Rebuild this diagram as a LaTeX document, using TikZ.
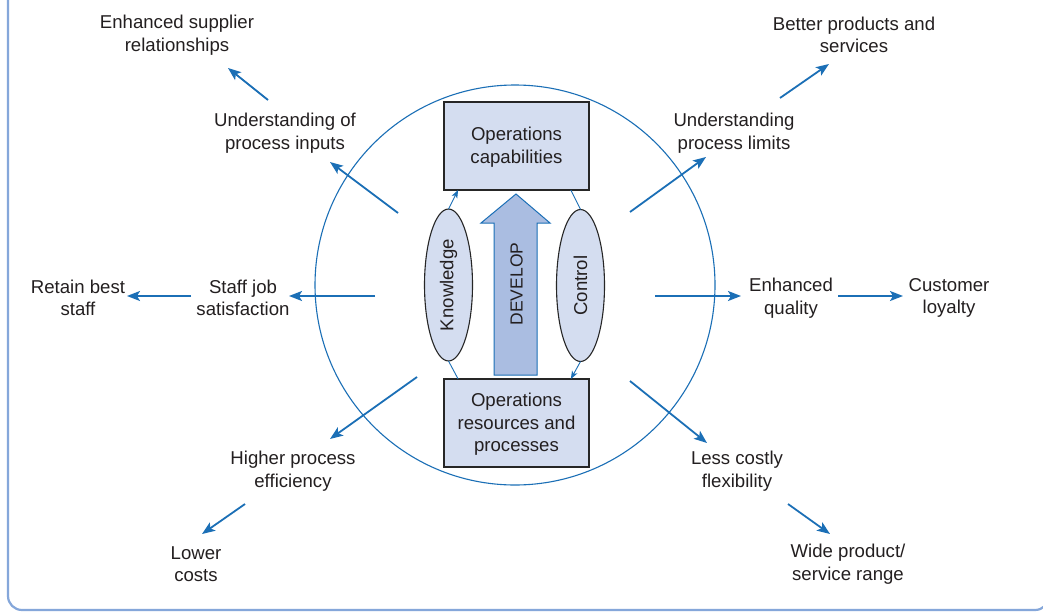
\documentclass[tikz,border=0pt]{standalone}
\usepackage{fontspec}
\setmainfont{Liberation Sans}
\usetikzlibrary{arrows.meta,shapes.geometric}
\definecolor{lineblue}{HTML}{1B6FB6}
\definecolor{framebl}{HTML}{85A7DA}
\definecolor{boxfill}{HTML}{D4DDF0}
\definecolor{arrowfill}{HTML}{AABDE1}
\definecolor{txt}{HTML}{231F20}
\begin{document}
\begin{tikzpicture}[x=1pt,y=-1pt,
  lbl/.style={align=center, font=\fontsize{18.6}{22.5}\selectfont, text=txt, inner sep=0pt, yshift=-2pt},
  flow/.style={draw=lineblue, line width=1.8pt, -{Stealth[length=13pt,width=10pt,inset=3pt]}},
  thinlink/.style={draw=lineblue, line width=0.9pt},
  thinarrow/.style={thinlink, -{Stealth[length=8pt,width=6pt,inset=2pt]}},
  opbox/.style={draw=black!85, line width=1.2pt, fill=boxfill, minimum width=145pt, minimum height=88pt, inner sep=0pt, outer sep=0pt, align=center, font=\fontsize{18.6}{22.5}\selectfont, text=txt},
  oval/.style={ellipse, draw=black!85, line width=1.1pt, fill=boxfill, rotate=90, minimum height=48pt, minimum width=152pt, inner sep=0pt, outer sep=0pt, font=\fontsize{18.6}{20}\selectfont, text=txt}
]
\useasboundingbox (0,0) rectangle (1043,613);
\clip (0,0) rectangle (1043,613);
\fill[white] (0,0) rectangle (1043,613);
% frame
\draw[framebl, line width=2.2pt, rounded corners=14pt] (8,-30) rectangle (1049,610);
% ring
\node[circle, draw=lineblue, line width=1.1pt, minimum size=400pt, inner sep=0pt] (ring) at (515,285) {};
% boxes
\node[opbox] (cap) at (516.5,146) {\rule{0pt}{16pt}Operations\\capabilities};
\node[opbox] (res) at (516.5,423) {\rule{0pt}{16pt}Operations\\resources and\\processes};
% ovals
\node[oval] (know) at (448.5,285) {Knowledge};
\node[oval] (ctrl) at (580.5,285.5) {Control};
% develop arrow
\path[fill=arrowfill, draw=lineblue, line width=1pt]
  (494,375) -- (494,223) -- (481,223) -- (516,194) -- (550,223) -- (537,223) -- (537,375) -- cycle;
\node[rotate=90, inner sep=0pt, font=\fontsize{17.5}{20}\selectfont, text=txt] (dev) at (516.5,284) {DEVELOP};
% thin links
\draw[thinlink] (res.143.5) -- (know.west);
\draw[thinarrow] (know.east) -- (cap.217);
\draw[thinlink] (cap.-39) -- (ctrl.east);
\draw[thinarrow] (ctrl.west) -- (res.39);
% labels
\node[lbl] (supp) at (177,33) {Enhanced supplier\\relationships};
\node[lbl] (better) at (854,33) {Better products and\\services};
\node[lbl] (inputs) at (285,131) {Understanding of\\process inputs};
\node[lbl] (limits) at (734,131) {Understanding\\process limits};
\node[lbl] (retain) at (78,296) {Retain best\\staff};
\node[lbl] (staffjob) at (243,296) {Staff job\\satisfaction};
\node[lbl] (quality) at (791,296) {Enhanced\\quality};
\node[lbl] (loyalty) at (949,296) {Customer\\loyalty};
\node[lbl] (effic) at (293,469) {Higher process\\efficiency};
\node[lbl] (flex) at (737,469) {Less costly\\flexibility};
\node[lbl] (lower) at (196,562) {Lower\\costs};
\node[lbl] (wide) at (848,562) {Wide product/\\service range};
% arrow end points
\coordinate (ul1) at (398,213); \coordinate (ul2) at (330,162);
\coordinate (ul3) at (268,100); \coordinate (ul4) at (228,68);
\coordinate (ur1) at (630,212); \coordinate (ur2) at (706,157);
\coordinate (ur3) at (780,98);  \coordinate (ur4) at (829,64);
\coordinate (l1) at (375,296);  \coordinate (l2) at (289,296);
\coordinate (l3) at (191,296);  \coordinate (l4) at (127,296);
\coordinate (r1) at (655,296);  \coordinate (r2) at (741,296);
\coordinate (r3) at (838,296);  \coordinate (r4) at (903,296);
\coordinate (ll1) at (417,377); \coordinate (ll2) at (330,439);
\coordinate (ll3) at (245,504); \coordinate (ll4) at (202,534);
\coordinate (lr1) at (630,381); \coordinate (lr2) at (707,443);
\coordinate (lr3) at (788,504); \coordinate (lr4) at (830,534);
% flows
\draw[flow] (ul1) -- (ul2);
\draw[flow] (ul3) -- (ul4);
\draw[flow] (ur1) -- (ur2);
\draw[flow] (ur3) -- (ur4);
\draw[flow] (l1) -- (l2);
\draw[flow] (l3) -- (l4);
\draw[flow] (r1) -- (r2);
\draw[flow] (r3) -- (r4);
\draw[flow] (ll1) -- (ll2);
\draw[flow] (ll3) -- (ll4);
\draw[flow] (lr1) -- (lr2);
\draw[flow] (lr3) -- (lr4);
\end{tikzpicture}
\end{document}
